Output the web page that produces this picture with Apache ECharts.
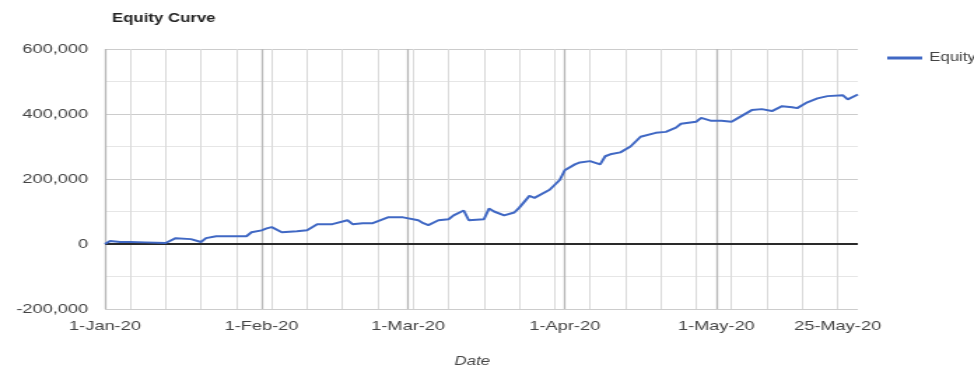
<!DOCTYPE html>
<html>
<head>
<meta charset="utf-8">
<script src="https://cdn.jsdelivr.net/npm/echarts@6/dist/echarts.min.js"></script>
<style>
  html, body { margin: 0; padding: 0; background: #fff; overflow: hidden; }
  /* chart is laid out narrow and widened horizontally */
  #chart { width: 696px; height: 373px; transform: scaleX(1.3994); transform-origin: 0 0; }
</style>
</head>
<body>
<div id="chart"></div>
<script>
// Daily equity readings
const dates = [
  '2020-01-01','2020-01-02','2020-01-04','2020-01-06','2020-01-09','2020-01-13','2020-01-15','2020-01-18',
  '2020-01-20','2020-01-21','2020-01-23','2020-01-29','2020-01-30','2020-02-01','2020-02-02','2020-02-03',
  '2020-02-05','2020-02-08','2020-02-10','2020-02-12','2020-02-15','2020-02-18','2020-02-19','2020-02-21',
  '2020-02-23','2020-02-26','2020-02-29','2020-03-03','2020-03-04','2020-03-05','2020-03-07','2020-03-09',
  '2020-03-10','2020-03-12','2020-03-13','2020-03-16','2020-03-17','2020-03-18','2020-03-20','2020-03-22',
  '2020-03-23','2020-03-25','2020-03-26','2020-03-29','2020-03-31','2020-04-01','2020-04-03','2020-04-04',
  '2020-04-06','2020-04-08','2020-04-09','2020-04-10','2020-04-12','2020-04-14','2020-04-16','2020-04-19',
  '2020-04-21','2020-04-23','2020-04-24','2020-04-27','2020-04-28','2020-04-30','2020-05-02','2020-05-04',
  '2020-05-05','2020-05-08','2020-05-10','2020-05-12','2020-05-14','2020-05-16','2020-05-17','2020-05-19',
  '2020-05-21','2020-05-23','2020-05-26','2020-05-27','2020-05-29'
];
const equity = [
  0, 9000, 6000, 6000, 5000, 3000, 18000, 15000,
  6000, 18000, 24000, 24000, 36000, 42000, 48000, 52000,
  36000, 39000, 42000, 61000, 61000, 73000, 61000, 64000,
  64000, 82000, 82000, 73000, 64000, 58000, 73000, 76000,
  88000, 103000, 73000, 76000, 109000, 100000, 88000, 97000,
  112000, 148000, 142000, 167000, 197000, 227000, 245000, 251000,
  255000, 245000, 270000, 276000, 282000, 300000, 330000, 342000,
  345000, 358000, 370000, 376000, 388000, 379000, 379000, 376000,
  385000, 412000, 415000, 409000, 424000, 421000, 418000, 436000,
  448000, 455000, 458000, 445000, 460000
];

// Axis ticks and grid positions
const xStart = '2020-01-01';
const xEnd = '2020-05-29';
const dateTicks = ['2020-01-01','2020-02-01','2020-03-01','2020-04-01','2020-05-01','2020-05-25'];
const monthLines = ['2020-01-01','2020-02-01','2020-03-01','2020-04-01','2020-05-01'];
const weekLines = [
  '2020-01-06','2020-01-13','2020-01-20','2020-01-27','2020-02-03','2020-02-10','2020-02-17','2020-02-24',
  '2020-03-02','2020-03-09','2020-03-16','2020-03-23','2020-03-30','2020-04-06','2020-04-13','2020-04-20',
  '2020-04-27','2020-05-04','2020-05-11','2020-05-18','2020-05-25'
];
const yMin = -200000, yMax = 600000, yStep = 200000;

const MONTHS = ['Jan','Feb','Mar','Apr','May','Jun','Jul','Aug','Sep','Oct','Nov','Dec'];
function ts(s) {
  const p = s.split('-').map(Number);
  return new Date(p[0], p[1] - 1, p[2]).getTime();
}
function fmtDate(v) {
  const d = new Date(v);
  return d.getDate() + '-' + MONTHS[d.getMonth()] + '-' + String(d.getFullYear()).slice(2);
}

const FONT = '"Liberation Sans", Arial, sans-serif';
const chart = echarts.init(document.getElementById('chart'));

chart.setOption({
  animation: false,
  backgroundColor: '#ffffff',
  title: {
    text: 'Equity Curve',
    left: 75, top: 8,
    textStyle: { fontFamily: FONT, fontSize: 12, fontWeight: 'bold', color: '#222' }
  },
  legend: {
    data: ['Equity'],
    left: 629, top: 47,
    icon: 'rect', itemWidth: 25, itemHeight: 3,
    textStyle: { fontFamily: FONT, fontSize: 12, color: '#444' }
  },
  grid: { left: 75, right: 83, top: 49, bottom: 60 },
  xAxis: {
    type: 'value',
    min: ts(xStart), max: ts(xEnd),
    name: 'Date',
    nameLocation: 'middle',
    nameGap: 47,
    nameTextStyle: { fontFamily: FONT, fontSize: 12, fontStyle: 'italic', color: '#444', padding: [0, 13, 0, 0] },
    axisLine: { show: false },
    axisTick: { show: false },
    splitLine: { show: false },
    axisLabel: {
      customValues: dateTicks.map(ts),
      formatter: fmtDate,
      margin: 11,
      hideOverlap: false,
      showMinLabel: true,
      showMaxLabel: true,
      fontFamily: FONT, fontSize: 13, color: '#444'
    }
  },
  yAxis: {
    type: 'value',
    min: yMin, max: yMax, interval: yStep,
    axisLine: { show: false },
    axisTick: { show: false },
    axisLabel: { margin: 12, fontFamily: FONT, fontSize: 13, color: '#444' },
    splitLine: { show: true, lineStyle: { color: '#cccccc', width: 1 } },
    minorTick: { show: false, splitNumber: 2 },
    minorSplitLine: { show: true, lineStyle: { color: '#e6e6e6', width: 1 } }
  },
  series: [
    {
      name: 'grid-weeks',
      type: 'line',
      data: [],
      silent: true,
      markLine: {
        silent: true, z: 1,
        symbol: ['none', 'none'],
        label: { show: false },
        lineStyle: { color: '#dadada', width: 1, type: 'solid' },
        data: weekLines.map(d => ({ xAxis: ts(d) }))
      }
    },
    {
      name: 'grid-months',
      type: 'line',
      data: [],
      silent: true,
      markLine: {
        silent: true, z: 1,
        symbol: ['none', 'none'],
        label: { show: false },
        lineStyle: { color: '#b8b8b8', width: 1.3, type: 'solid' },
        data: monthLines.map(d => ({ xAxis: ts(d) }))
      }
    },
    {
      name: 'zero-line',
      type: 'line',
      data: [],
      silent: true,
      markLine: {
        silent: true, z: 2,
        symbol: ['none', 'none'],
        label: { show: false },
        lineStyle: { color: '#2a2a2a', width: 1.8, type: 'solid' },
        data: [{ yAxis: 0 }]
      }
    },
    {
      name: 'Equity',
      type: 'line',
      z: 3,
      showSymbol: false,
      symbol: 'none',
      color: '#4068c4',
      lineStyle: { color: '#4068c4', width: 2 },
      data: dates.map((d, i) => [ts(d), equity[i]])
    }
  ]
});
</script>
</body>
</html>
